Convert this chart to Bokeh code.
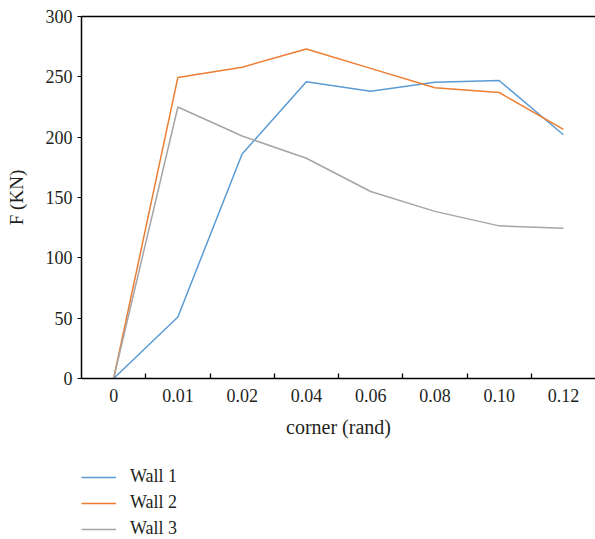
from bokeh.plotting import figure
from bokeh.models import (FixedTicker, LinearAxis, Range1d, Legend, LegendItem)
from bokeh.layouts import column
from bokeh.embed import file_html
from bokeh.resources import INLINE

categories = ["0", "0.01", "0.02", "0.04", "0.06", "0.08", "0.10", "0.12"]
wall1 = [0, 51, 186, 246, 238, 245.5, 247, 202]
wall2 = [0, 249.5, 258, 273, 257, 241, 237, 206.5]
wall3 = [0, 225, 201, 182.5, 155, 138.5, 126.5, 124.5]
y_ticks = [0, 50, 100, 150, 200, 250, 300]
series_names = ["Wall 1", "Wall 2", "Wall 3"]
colors = ["#5b9bd5", "#ed7d31", "#a5a5a5"]

FONT = "Liberation Serif"
TXT = "#231f20"

xs = [i + 0.5 for i in range(len(categories))]
bounds = [i for i in range(1, len(categories))]
series = [wall1, wall2, wall3]

p = figure(frame_width=514, frame_height=362, output_backend="svg",
           toolbar_location=None, x_range=Range1d(0, len(categories)),
           y_range=Range1d(0, 300), min_border_left=81, min_border_right=0,
           min_border_top=16, min_border_bottom=70)
p.outline_line_color = None
p.grid.visible = False
p.background_fill_color = "white"
p.border_fill_color = "white"

for ys, c in zip(series, colors):
    p.line(xs, ys, line_color=c, line_width=1.5)

xa = p.xaxis[0]
xa.ticker = FixedTicker(ticks=xs, minor_ticks=bounds)
xa.major_label_overrides = {x: c for x, c in zip(xs, categories)}
xa.major_tick_line_color = None
xa.minor_tick_in = 5
xa.minor_tick_out = 0
xa.minor_tick_line_color = "black"
xa.minor_tick_line_width = 1.3
xa.axis_line_width = 1.5
xa.axis_line_color = "black"
xa.axis_label = "corner (rand)"
xa.major_label_standoff = 4
xa.axis_label_standoff = 11

ya = p.yaxis[0]
ya.ticker = FixedTicker(ticks=y_ticks)
ya.minor_tick_line_color = None
ya.major_tick_in = 0
ya.major_tick_out = 4
ya.major_tick_line_color = "black"
ya.axis_line_width = 1.5
ya.axis_line_color = "black"
ya.axis_label = "F (KN)"
ya.major_label_standoff = 5
ya.axis_label_standoff = 16

for ax in [xa, ya]:
    ax.major_label_text_font = FONT
    ax.major_label_text_font_size = "18px"
    ax.major_label_text_color = TXT
    ax.axis_label_text_font = FONT
    ax.axis_label_text_font_style = "normal"
    ax.axis_label_text_color = TXT
xa.axis_label_text_font_size = "20px"
ya.axis_label_text_font_size = "19px"

top = LinearAxis(ticker=FixedTicker(ticks=[]), axis_line_color="black",
                 axis_line_width=1.5, major_label_text_font_size="0px",
                 major_tick_line_color=None, minor_tick_line_color=None)
p.add_layout(top, "above")

# legend panel below the chart (series drawn out of view, legend only)
lg = figure(frame_width=514, frame_height=91, output_backend="svg",
            toolbar_location=None, x_range=Range1d(-20, -19), y_range=Range1d(-20, -19),
            x_axis_type=None, y_axis_type=None, min_border_left=81,
            min_border_right=0, min_border_top=0, min_border_bottom=0)
lg.outline_line_color = None
lg.grid.visible = False
items = []
for n, ys, c in zip(series_names, series, colors):
    r = lg.line(xs, ys, line_color=c, line_width=1.5)
    items.append(LegendItem(label=n, renderers=[r]))

legend = Legend(items=items, location=(0, 0), orientation="vertical")
legend.label_text_font = FONT
legend.label_text_font_size = "18px"
legend.label_text_color = TXT
legend.glyph_width = 35
legend.glyph_height = 20
legend.label_height = 20
legend.label_standoff = 14
legend.spacing = 5
legend.padding = 0
legend.margin = 0
legend.border_line_color = None
legend.background_fill_alpha = 0
lg.add_layout(legend, "center")

layout = column(p, lg, spacing=0)
open("out.html", "w").write(file_html(layout, INLINE))
